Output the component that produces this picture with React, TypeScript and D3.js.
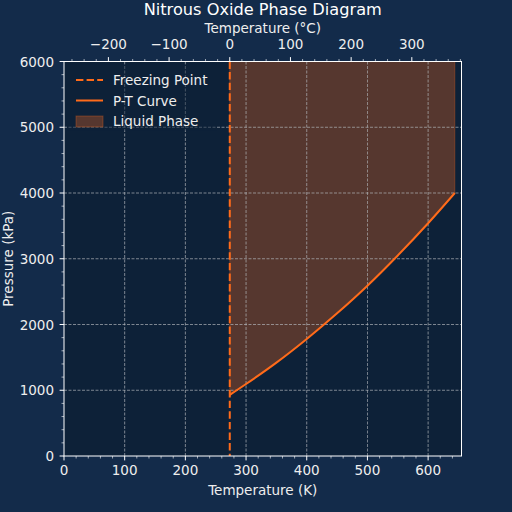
import React, { useEffect } from "react";
import * as d3 from "d3";

// P-T curve (K, kPa)
const curveT = [273.15, 300, 350, 400, 450, 500, 550, 600, 644];
const curveP = [930, 1095, 1420, 1780, 2170, 2590, 3050, 3540, 4000];
const freezingK = 273.15;
const kTicks = [0, 100, 200, 300, 400, 500, 600];
const cTicks = [-200, -100, 0, 100, 200, 300];
const pTicks = [0, 1000, 2000, 3000, 4000, 5000, 6000];
const legendItems = ["Freezing Point", "P-T Curve", "Liquid Phase"];

const W = 512;
const H = 512;
const m = { left: 64, right: 461.5, top: 61.5, bottom: 456 };
const orange = "#ff6b1a";
const plotBg = "#0d2138";
const font = "DejaVu Sans, sans-serif";
const textCol = "#eeeeee";
const fs = 13.5;

const App = () => {
  useEffect(() => {
    document.body.style.margin = "0";
  }, []);

  const x = d3.scaleLinear().domain([0, 655]).range([m.left, m.right]);
  const y = d3.scaleLinear().domain([0, 6000]).range([m.bottom, m.top]);

  const pts: [number, number][] = curveT.map((t, i) => [t, curveP[i]]);
  const line = d3.line<[number, number]>().x(d => x(d[0])).y(d => y(d[1])).curve(d3.curveMonotoneX);
  const area = d3.area<[number, number]>()
    .x(d => x(d[0]))
    .y0(() => y(6000))
    .y1(d => y(d[1]))
    .curve(d3.curveMonotoneX);

  const kMinor = d3.range(0, 656, 20).filter(v => v % 100 !== 0);
  const cMinor = d3.range(-260, 382, 20).filter(v => v % 100 !== 0 && x(v + 273.15) >= m.left && x(v + 273.15) <= m.right);
  const pMinor = d3.range(0, 6001, 200).filter(v => v % 1000 !== 0);

  const gridStyle = { stroke: "#b4b8bc", strokeWidth: 0.8, strokeDasharray: "3,1.5", opacity: 0.85 };

  return (
    <svg width={W} height={H} style={{ display: "block", fontFamily: font }}>
      <rect width={W} height={H} fill="#132b4a" />
      <rect x={m.left} y={m.top} width={m.right - m.left} height={m.bottom - m.top} fill={plotBg} />

      {/* liquid phase */}
      <path d={area(pts) ?? ""} fill={orange} fillOpacity={0.3} stroke={orange} strokeOpacity={0.3} strokeWidth={1} />

      {/* grid */}
      {kTicks.slice(1).map(t => (
        <line key={"gx" + t} x1={x(t)} x2={x(t)} y1={m.top} y2={m.bottom} {...gridStyle} />
      ))}
      {pTicks.slice(1, -1).map(p => (
        <line key={"gy" + p} x1={m.left} x2={m.right} y1={y(p)} y2={y(p)} {...gridStyle} />
      ))}

      {/* freezing point */}
      <line x1={x(freezingK)} x2={x(freezingK)} y1={m.top} y2={m.bottom} stroke={orange} strokeWidth={2} strokeDasharray="7.4,3.2" />
      <path d={line(pts) ?? ""} fill="none" stroke={orange} strokeWidth={2} />

      {/* frame */}
      <rect x={m.left} y={m.top} width={m.right - m.left} height={m.bottom - m.top} fill="none" stroke="#ffffff" strokeWidth={1} />

      {/* bottom axis */}
      {kTicks.map(t => (
        <g key={"kt" + t}>
          <line x1={x(t)} x2={x(t)} y1={m.bottom} y2={m.bottom + 4.4} stroke="#fff" />
          <text x={x(t)} y={m.bottom + 19} fontSize={fs} fill={textCol} textAnchor="middle">{t}</text>
        </g>
      ))}
      {kMinor.map(t => (
        <line key={"km" + t} x1={x(t)} x2={x(t)} y1={m.bottom} y2={m.bottom + 2.5} stroke="#fff" strokeWidth={0.6} />
      ))}
      <text x={(m.left + m.right) / 2} y={495} fontSize={fs} fill={textCol} textAnchor="middle">Temperature (K)</text>

      {/* top axis (Celsius) */}
      {cTicks.map(c => (
        <g key={"ct" + c}>
          <line x1={x(c + 273.15)} x2={x(c + 273.15)} y1={m.top} y2={m.top - 4.4} stroke="#fff" />
          <text x={x(c + 273.15)} y={49} fontSize={fs} fill={textCol} textAnchor="middle">{c < 0 ? "\u2212" + Math.abs(c) : c}</text>
        </g>
      ))}
      {cMinor.map(c => (
        <line key={"cm" + c} x1={x(c + 273.15)} x2={x(c + 273.15)} y1={m.top} y2={m.top - 2.5} stroke="#fff" strokeWidth={0.6} />
      ))}
      <text x={(m.left + m.right) / 2} y={33} fontSize={fs} fill={textCol} textAnchor="middle">Temperature (°C)</text>

      {/* left axis */}
      {pTicks.map(p => (
        <g key={"pt" + p}>
          <line x1={m.left} x2={m.left - 4.4} y1={y(p)} y2={y(p)} stroke="#fff" />
          <text x={m.left - 10} y={y(p) + 5} fontSize={fs} fill={textCol} textAnchor="end">{p}</text>
        </g>
      ))}
      {pMinor.map(p => (
        <line key={"pm" + p} x1={m.left} x2={m.left - 2.5} y1={y(p)} y2={y(p)} stroke="#fff" strokeWidth={0.6} />
      ))}
      <text transform={`translate(13,${(m.top + m.bottom) / 2}) rotate(-90)`} fontSize={fs} fill={textCol} textAnchor="middle">Pressure (kPa)</text>

      {/* title */}
      <text x={(m.left + m.right) / 2} y={14.5} fontSize={16.2} fill="#ffffff" textAnchor="middle">Nitrous Oxide Phase Diagram</text>

      {/* legend */}
      <g>
        <rect x={67} y={64.5} width={150} height={66} fill={plotBg} fillOpacity={0.5} />
        <line x1={76} x2={103} y1={80} y2={80} stroke={orange} strokeWidth={2} strokeDasharray="7.4,3.2" />
        <line x1={76} x2={103} y1={100.5} y2={100.5} stroke={orange} strokeWidth={2} />
        <rect x={76} y={116} width={27} height={11} fill={orange} fillOpacity={0.3} stroke={orange} strokeOpacity={0.3} />
        {legendItems.map((s, i) => (
          <text key={s} x={113} y={85 + i * 20.6} fontSize={fs} fill={textCol}>{s}</text>
        ))}
      </g>
    </svg>
  );
};

export default App;
